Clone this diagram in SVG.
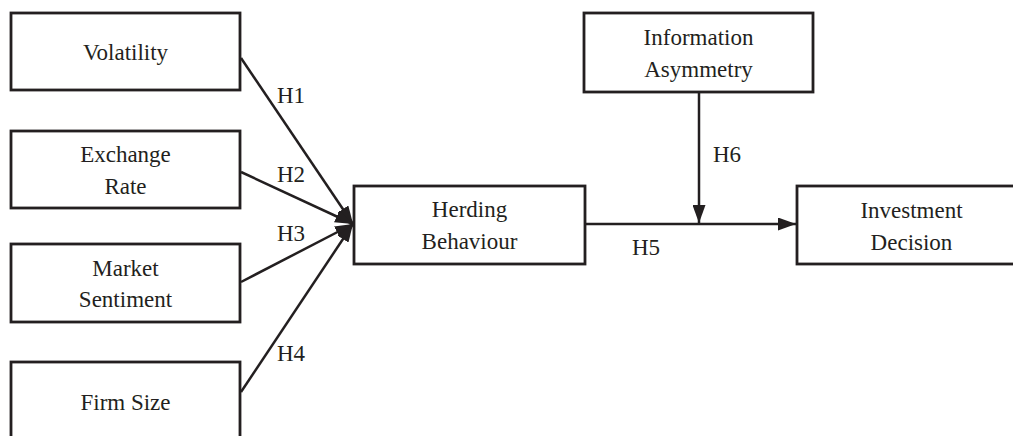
<svg xmlns="http://www.w3.org/2000/svg" width="1013" height="436" viewBox="0 0 1013 436">
<style>
.box{fill:#fff;stroke:#231f20;stroke-width:2.8}
.t{font-family:"Liberation Serif","Times New Roman",serif;font-size:23px;fill:#231f20;text-anchor:middle}
.l{font-family:"Liberation Serif","Times New Roman",serif;font-size:23px;fill:#231f20}
.c{stroke:#231f20;stroke-width:2.5;fill:none}
</style>
<defs>
<marker id="ah" viewBox="0 0 18 13" refX="18" refY="6.5" markerWidth="18" markerHeight="13" orient="auto" markerUnits="userSpaceOnUse">
<path d="M0,0 L18,6.5 L0,13 Z" fill="#231f20"/>
</marker>
</defs>
<rect width="1013" height="436" fill="#fff"/>
<g id="volatility"><rect class="box" x="11" y="13" width="229" height="77"/><text class="t" x="125.5" y="60">Volatility</text></g>
<g id="exchange-rate"><rect class="box" x="11" y="131" width="229" height="77"/><text class="t" x="125.5" y="162">Exchange</text><text class="t" x="125.5" y="194">Rate</text></g>
<g id="market-sentiment"><rect class="box" x="11" y="244" width="229" height="78"/><text class="t" x="125.5" y="276">Market</text><text class="t" x="125.5" y="307">Sentiment</text></g>
<g id="firm-size"><rect class="box" x="11" y="362" width="229" height="78"/><text class="t" x="125.5" y="410">Firm Size</text></g>
<g id="herding-behaviour"><rect class="box" x="354" y="186" width="231" height="78"/><text class="t" x="469.5" y="217">Herding</text><text class="t" x="469.5" y="249">Behaviour</text></g>
<g id="information-asymmetry"><rect class="box" x="584" y="13" width="229" height="79"/><text class="t" x="698.5" y="45">Information</text><text class="t" x="698.5" y="77">Asymmetry</text></g>
<g id="investment-decision"><rect class="box" x="797" y="186" width="229" height="78"/><text class="t" x="911.5" y="218">Investment</text><text class="t" x="911.5" y="250">Decision</text></g>
<g id="connectors">
<line class="c" x1="241" y1="58" x2="353" y2="224" marker-end="url(#ah)"/>
<line class="c" x1="241" y1="172" x2="353" y2="224" marker-end="url(#ah)"/>
<line class="c" x1="241" y1="282" x2="353" y2="224" marker-end="url(#ah)"/>
<line class="c" x1="241" y1="392" x2="353" y2="224" marker-end="url(#ah)"/>
<line class="c" x1="585" y1="224" x2="796" y2="224" marker-end="url(#ah)"/>
<line class="c" x1="699" y1="92" x2="699" y2="223" marker-end="url(#ah)"/>
<text class="l" x="277" y="103">H1</text>
<text class="l" x="277" y="182">H2</text>
<text class="l" x="277" y="241">H3</text>
<text class="l" x="277" y="361">H4</text>
<text class="l" x="632" y="255">H5</text>
<text class="l" x="713" y="162">H6</text>
</g>
</svg>
